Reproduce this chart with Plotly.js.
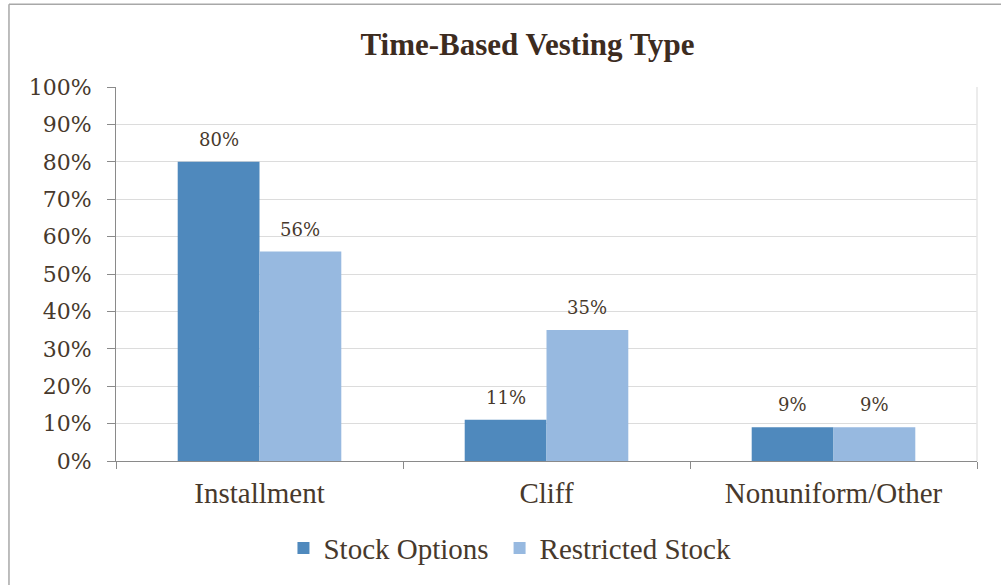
<!DOCTYPE html>
<html>
<head>
<meta charset="utf-8">
<script src="https://cdn.plot.ly/plotly-3.0.1.min.js"></script>
<style>html,body{margin:0;padding:0;background:#fff;}#chart{width:1001px;height:585px;}</style>
</head>
<body>
<div id="chart"></div>
<script>
const categories = ["Installment", "Cliff", "Nonuniform/Other"];
const stockOptions = [0.80, 0.11, 0.09];
const restrictedStock = [0.56, 0.35, 0.09];
const seriesNames = ["Stock Options", "Restricted Stock"];

const textColor = "#47392c";
const darkBlue = "#4f89bd";
const lightBlue = "#97b9e0";
const bargap = 0.43;
const serif = "'Liberation Serif', serif";
const numSerif = "'DejaVu Serif', serif";

const traces = [
  {type: "bar", x: categories, y: stockOptions, name: seriesNames[0],
   marker: {color: darkBlue}, hoverinfo: "skip", legend: "legend"},
  {type: "bar", x: categories, y: restrictedStock, name: seriesNames[1],
   marker: {color: lightBlue}, hoverinfo: "skip", legend: "legend2"}
];

// data labels above each bar
const barW = (1 - bargap) / 2;
const annotations = [];
[stockOptions, restrictedStock].forEach((vals, s) => {
  const off = (s === 0 ? -1 : 1) * barW / 2;
  vals.forEach((v, i) => {
    annotations.push({
      x: i + off, y: v, xref: "x", yref: "y",
      text: Math.round(v * 100) + "%", showarrow: false,
      yanchor: "bottom", yshift: 10,
      font: {family: numSerif, size: 18, color: textColor}
    });
  });
});

const legendBase = {orientation: "h", xanchor: "left", y: -0.23, yanchor: "middle",
  font: {family: serif, size: 29, color: textColor}, itemwidth: 30, bgcolor: "rgba(0,0,0,0)"};

const layout = {
  width: 1001, height: 585,
  margin: {l: 116, r: 24, t: 87, b: 123},
  font: {family: serif, color: textColor},
  paper_bgcolor: "#ffffff", plot_bgcolor: "#ffffff",
  title: {text: "<b>Time-Based Vesting Type</b>", x: 0.527, xanchor: "center",
          y: 0.925, yanchor: "middle",
          font: {family: serif, size: 31, color: "#3d2c1f"}},
  barmode: "group", bargap: bargap, bargroupgap: 0,
  showlegend: true,
  legend: Object.assign({}, legendBase, {x: 0.1945}),
  legend2: Object.assign({}, legendBase, {x: 0.4455}),
  xaxis: {type: "category", showgrid: false, showline: true, linecolor: "#8a8a8a", linewidth: 1,
          ticks: "outside", tickson: "boundaries", ticklen: 7, tickcolor: "#8a8a8a",
          ticklabelstandoff: 6,
          tickfont: {family: serif, size: 29, color: textColor}, fixedrange: true},
  yaxis: {range: [0, 1], dtick: 0.1, tickformat: ".0%", showgrid: true, gridcolor: "#dcdcdc", gridwidth: 1,
          showline: true, linecolor: "#8a8a8a", linewidth: 1, ticks: "outside", ticklen: 8,
          tickcolor: "#8a8a8a", ticklabelstandoff: 11, zeroline: false,
          tickfont: {family: numSerif, size: 22, color: textColor}, fixedrange: true},
  annotations: annotations,
  shapes: [
    {type: "line", xref: "paper", yref: "paper", x0: 1, x1: 1, y0: 0, y1: 1,
     line: {color: "#e6e6e6", width: 1.5}},
    {type: "line", xref: "paper", yref: "paper", x0: -0.1243, x1: -0.1243, y0: -0.4, y1: 1.2213,
     line: {color: "#a8a8a8", width: 1.5}},
    {type: "line", xref: "paper", yref: "paper", x0: -0.1243, x1: 1.1, y0: 1.2213, y1: 1.2213,
     line: {color: "#a8a8a8", width: 1.5}}
  ]
};

Plotly.newPlot("chart", traces, layout, {displayModeBar: false, staticPlot: true});
</script>
</body>
</html>
